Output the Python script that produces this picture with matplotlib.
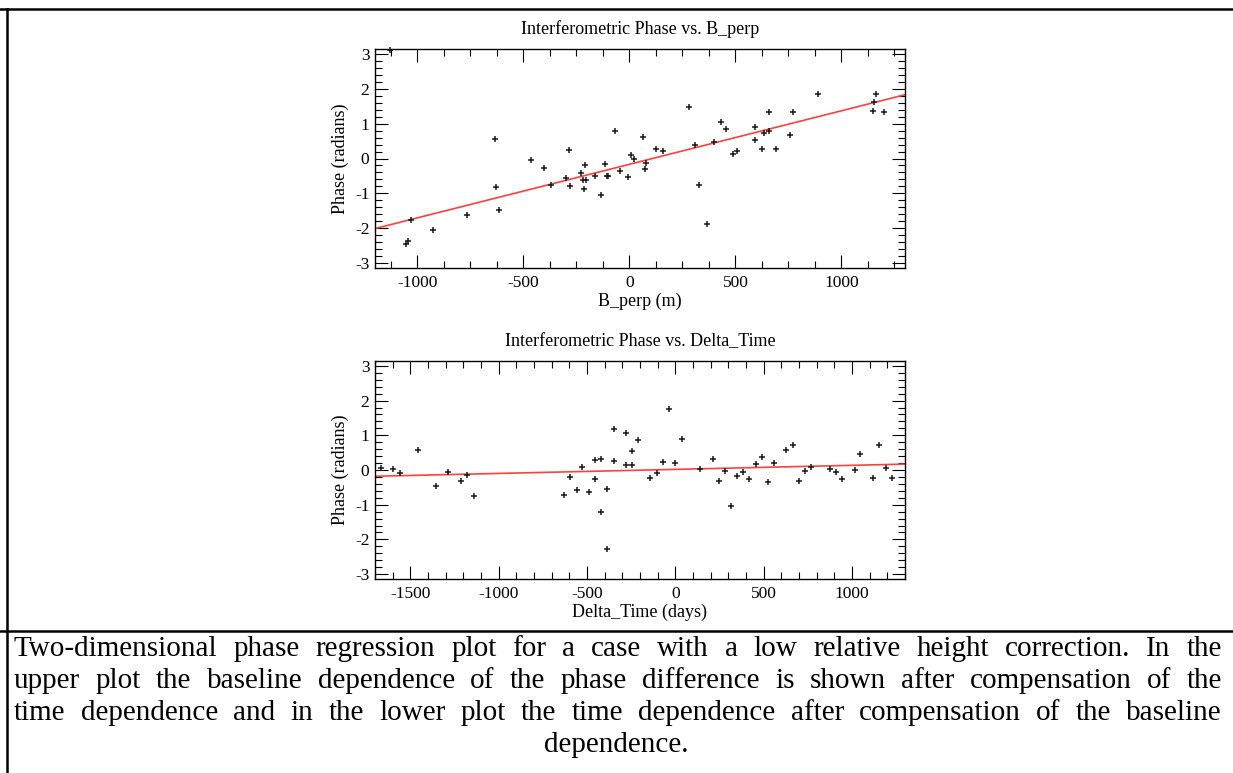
import matplotlib

matplotlib.use("Agg")
import matplotlib.pyplot as plt
from matplotlib.lines import Line2D
from matplotlib.ticker import MultipleLocator

plt.rcParams["axes.unicode_minus"] = False

SERIF = "Liberation Serif"
W, H = 1233, 773

# upper panel: phase vs perpendicular baseline
bperp = [-1128, -1052, -1046, -1032, -926, -766, -634, -627, -615, -464,
         -403, -371, -300, -283, -278, -228, -219, -214, -211, -203,
         -162, -134, -115, -108, -100, -69, -44, -5, 8, 20,
         66, 72, 80, 124, 157, 281, 311, 330, 365, 401,
         431, 458, 487, 508, 592, 592, 626, 637, 658, 658,
         691, 756, 773, 891, 1148, 1154, 1165, 1200]
phase_b = [3.12, -2.44, -2.36, -1.76, -2.05, -1.61, 0.56, -0.83, -1.47, -0.05,
           -0.26, -0.76, -0.55, 0.24, -0.79, -0.41, -0.62, -0.87, -0.20, -0.62,
           -0.49, -1.06, -0.15, -0.50, -0.50, 0.80, -0.37, -0.53, 0.10, 0.00,
           0.62, -0.30, -0.14, 0.28, 0.22, 1.47, 0.40, -0.77, -1.87, 0.48,
           1.05, 0.84, 0.13, 0.22, 0.89, 0.54, 0.27, 0.73, 0.79, 1.33,
           0.27, 0.66, 1.34, 1.84, 1.37, 1.62, 1.84, 1.33]
fit_b = (-0.167, 0.001536)   # intercept, slope

# lower panel: phase vs time difference
dtime = [-1668, -1599, -1561, -1457, -1353, -1285, -1216, -1178, -1142, -631,
         -597, -559, -527, -491, -455, -455, -419, -419, -385, -385,
         -349, -349, -281, -281, -247, -243, -209, -142, -104, -72,
         -34, 0, 36, 138, 211, 245, 279, 317, 349, 385,
         419, 455, 490, 524, 558, 628, 666, 700, 736, 766,
         874, 911, 943, 1017, 1045, 1121, 1153, 1191, 1226]
phase_t = [0.06, 0.02, -0.09, 0.58, -0.45, -0.06, -0.31, -0.15, -0.74, -0.71,
           -0.21, -0.57, 0.08, -0.64, 0.29, -0.26, 0.31, -1.22, -0.54, -2.27,
           1.18, 0.25, 1.07, 0.15, 0.15, 0.56, 0.87, -0.23, -0.09, 0.22,
           1.76, 0.20, 0.90, 0.03, 0.31, -0.31, -0.02, -1.05, -0.17, -0.07,
           -0.25, 0.16, 0.38, -0.36, 0.20, 0.58, 0.73, -0.31, -0.04, 0.09,
           0.03, -0.05, -0.25, 0.01, 0.45, -0.23, 0.71, 0.07, -0.24]
fit_t = (0.018, 0.0001167)

caption = [
    "Two-dimensional phase regression plot for a case with a low relative height correction. In the",
    "upper plot the baseline dependence of the phase difference is shown after compensation of the",
    "time dependence and in the lower plot the time dependence after compensation of the baseline",
    "dependence.",
]

PI = 3.14159


def panel(ax, x, y, fit, xlim, minor, title, xlabel):
    ax.plot(x, y, "+", color="#1a1a1a", ms=5, mew=1.1, clip_on=False, zorder=3)
    ax.plot(xlim, [fit[0] + fit[1] * v for v in xlim], color="#ff4040", lw=1.2, zorder=2)
    ax.set_xlim(xlim)
    ax.set_ylim(-PI, PI)
    ax.xaxis.set_major_locator(MultipleLocator(500))
    ax.xaxis.set_minor_locator(MultipleLocator(minor))
    ax.yaxis.set_major_locator(MultipleLocator(1))
    ax.yaxis.set_minor_locator(MultipleLocator(0.2))
    ax.tick_params(which="both", direction="in", top=True, right=True, width=0.8,
                   labelsize=12.5, colors="black")
    ax.tick_params(which="major", length=9.5)
    ax.tick_params(which="minor", length=5)
    ax.tick_params(axis="x", pad=5)
    ax.tick_params(axis="y", pad=4)
    for s in ax.spines.values():
        s.set_linewidth(1.0)
    for lab in ax.get_xticklabels() + ax.get_yticklabels():
        lab.set_family(SERIF)
    ax.set_title(title, family=SERIF, fontsize=13, pad=11)
    ax.set_xlabel(xlabel, family=SERIF, fontsize=13, labelpad=1)
    ax.set_ylabel("Phase (radians)", family=SERIF, fontsize=13, labelpad=4)


fig = plt.figure(figsize=(W / 100, H / 100), dpi=100)

ax1 = fig.add_axes([375 / W, 1 - 268 / H, 530 / W, 219 / H])
panel(ax1, bperp, phase_b, fit_b, [-1200, 1300], 125,
      "Interferometric Phase vs. B_perp", "B_perp (m)")

ax2 = fig.add_axes([375 / W, 1 - 579 / H, 530 / W, 218 / H])
panel(ax2, dtime, phase_t, fit_t, [-1700, 1300], 100,
      "Interferometric Phase vs. Delta_Time", "Delta_Time (days)")

# table frame around figure and caption
fig.add_artist(Line2D([0, 1], [1 - 8.5 / H] * 2, color="black", lw=1.8))
fig.add_artist(Line2D([0, 1], [1 - 630.5 / H] * 2, color="black", lw=1.8))
fig.add_artist(Line2D([6.5 / W] * 2, [0, 1 - 8.5 / H], color="black", lw=1.8))

# justified caption
renderer = fig.canvas.get_renderer()
x0, x1 = 14, 1222
baselines = [656, 688, 720, 752]
for i, line in enumerate(caption):
    yb = 1 - baselines[i] / H
    if i == len(caption) - 1:
        fig.text(616.5 / W, yb, line, family=SERIF, fontsize=21, ha="center", va="baseline")
        continue
    words = line.split()
    texts = [fig.text(0, yb, w, family=SERIF, fontsize=21, va="baseline") for w in words]
    widths = [t.get_window_extent(renderer).width for t in texts]
    gap = (x1 - x0 - sum(widths)) / (len(words) - 1)
    pos = x0
    for t, w in zip(texts, widths):
        t.set_x(pos / W)
        pos += w + gap

fig.savefig("out.png", dpi=100)
